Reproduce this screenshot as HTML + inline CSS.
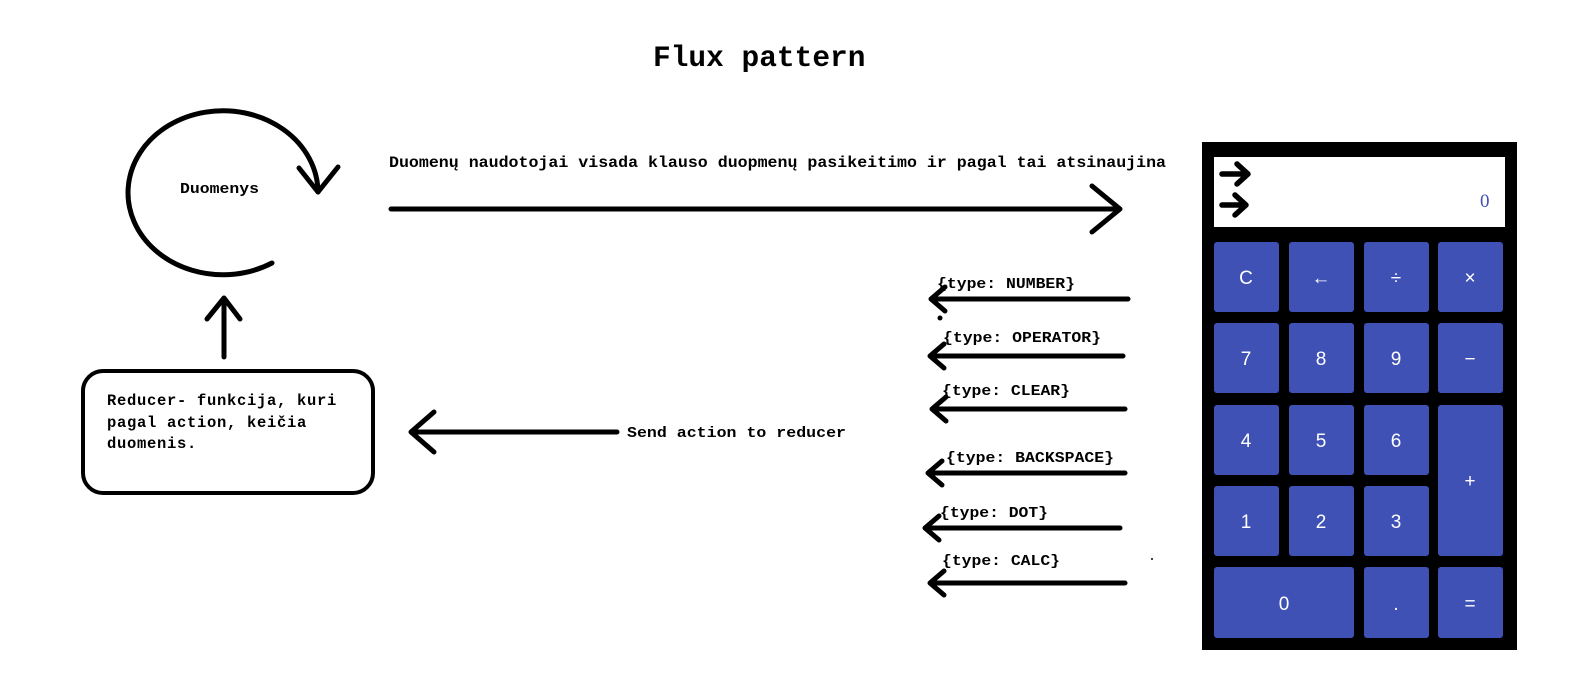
<!DOCTYPE html>
<html><head><meta charset="utf-8"><style>
html,body{margin:0;padding:0;background:#fff;}
svg{display:block;}
text{font-family:"Liberation Mono",monospace;font-weight:bold;fill:#000;}
.b{fill:#3f51b5;}
.k{font-family:"Liberation Sans",sans-serif;font-weight:normal;fill:#fff;font-size:19px;text-anchor:middle;}
</style></head><body>
<svg width="1593" height="688" viewBox="0 0 1593 688" xmlns="http://www.w3.org/2000/svg">
<g stroke="#000" stroke-width="5" fill="none" stroke-linecap="round" stroke-linejoin="round">
 <path d="M272 263 A95 82 0 1 1 318 192"/>
 <path d="M299 168 L318 192 L338 167"/>
 <path d="M224 357 L224 298 M207 319 L224 298 L240 319"/>
 <rect x="83" y="371" width="290" height="122" rx="20" ry="20" stroke-width="4"/>
 <path d="M391 209 L1120 209 M1092 186 L1120 209 L1092 232"/>
 <path d="M617 432 L411 432 M434 412 L411 432 L434 452"/>
 <path d="M1128 299 L931 299 M945 287 L931 299 L945 311"/>
 <path d="M1123 356 L930 356 M944 344 L930 356 L944 368"/>
 <path d="M1125 409 L932 409 M946 397 L932 409 L946 421"/>
 <path d="M1125 473 L928 473 M942 461 L928 473 L942 485"/>
 <path d="M1120 528 L925 528 M939 516 L925 528 L939 540"/>
 <path d="M1125 583 L930 583 M944 571 L930 583 L944 595"/>
</g>
<circle cx="940" cy="318" r="2.5" fill="#000"/>
<circle cx="1152" cy="559" r="1" fill="#000"/>
<text x="653" y="66" font-size="29.5">Flux pattern</text>
<text x="389" y="167" font-size="16" textLength="777" lengthAdjust="spacingAndGlyphs">Duomenų naudotojai visada klauso duopmenų pasikeitimo ir pagal tai atsinaujina</text>
<text x="180" y="193" font-size="15" textLength="79" lengthAdjust="spacingAndGlyphs">Duomenys</text>
<text font-size="15.5" letter-spacing="0.7"><tspan x="107" y="405">Reducer- funkcija, kuri</tspan><tspan x="107" y="427">pagal action, keičia</tspan><tspan x="107" y="448">duomenis.</tspan></text>
<text x="627" y="437" font-size="15" textLength="219" lengthAdjust="spacingAndGlyphs">Send action to reducer</text>
<g font-size="15">
<text x="937" y="288" textLength="138" lengthAdjust="spacingAndGlyphs">{type: NUMBER}</text>
<text x="943" y="342" textLength="158" lengthAdjust="spacingAndGlyphs">{type: OPERATOR}</text>
<text x="942" y="395" textLength="128" lengthAdjust="spacingAndGlyphs">{type: CLEAR}</text>
<text x="946" y="462" textLength="168" lengthAdjust="spacingAndGlyphs">{type: BACKSPACE}</text>
<text x="940" y="517" textLength="108" lengthAdjust="spacingAndGlyphs">{type: DOT}</text>
<text x="942" y="565" textLength="118" lengthAdjust="spacingAndGlyphs">{type: CALC}</text>
</g>
<rect x="1202" y="142" width="315" height="508" fill="#000"/>
<rect x="1214" y="157" width="291" height="70" fill="#fff"/>
<g stroke="#000" stroke-width="5.5" fill="none" stroke-linecap="round" stroke-linejoin="round">
<path d="M1222 174 L1247 174 M1237 164 L1248 174 L1237 184"/>
<path d="M1222 205 L1245 205 M1235 195 L1246 205 L1235 215"/>
</g>
<text x="1480" y="207" style="font-family:'Liberation Serif',serif;font-weight:normal;font-size:19px;fill:#3f51b5">0</text>
<g>
<rect class="b" x="1214" y="242" width="65" height="70" rx="3"/>
<rect class="b" x="1289" y="242" width="65" height="70" rx="3"/>
<rect class="b" x="1364" y="242" width="65" height="70" rx="3"/>
<rect class="b" x="1438" y="242" width="65" height="70" rx="3"/>
<rect class="b" x="1214" y="323" width="65" height="70" rx="3"/>
<rect class="b" x="1289" y="323" width="65" height="70" rx="3"/>
<rect class="b" x="1364" y="323" width="65" height="70" rx="3"/>
<rect class="b" x="1438" y="323" width="65" height="70" rx="3"/>
<rect class="b" x="1214" y="405" width="65" height="70" rx="3"/>
<rect class="b" x="1289" y="405" width="65" height="70" rx="3"/>
<rect class="b" x="1364" y="405" width="65" height="70" rx="3"/>
<rect class="b" x="1438" y="405" width="65" height="151" rx="3"/>
<rect class="b" x="1214" y="486" width="65" height="70" rx="3"/>
<rect class="b" x="1289" y="486" width="65" height="70" rx="3"/>
<rect class="b" x="1364" y="486" width="65" height="70" rx="3"/>
<rect class="b" x="1214" y="567" width="140" height="71" rx="3"/>
<rect class="b" x="1364" y="567" width="65" height="71" rx="3"/>
<rect class="b" x="1438" y="567" width="65" height="71" rx="3"/>
</g>
<g>
<text class="k" x="1246" y="284">C</text>
<text class="k" x="1321" y="284">←</text>
<text class="k" x="1396" y="284">÷</text>
<text class="k" x="1470" y="284">×</text>
<text class="k" x="1246" y="365">7</text>
<text class="k" x="1321" y="365">8</text>
<text class="k" x="1396" y="365">9</text>
<text class="k" x="1470" y="365">−</text>
<text class="k" x="1246" y="447">4</text>
<text class="k" x="1321" y="447">5</text>
<text class="k" x="1396" y="447">6</text>
<text class="k" x="1470" y="487">+</text>
<text class="k" x="1246" y="528">1</text>
<text class="k" x="1321" y="528">2</text>
<text class="k" x="1396" y="528">3</text>
<text class="k" x="1284" y="610">0</text>
<text class="k" x="1396" y="610">.</text>
<text class="k" x="1470" y="610">=</text>
</g>
</svg>
</body></html>
